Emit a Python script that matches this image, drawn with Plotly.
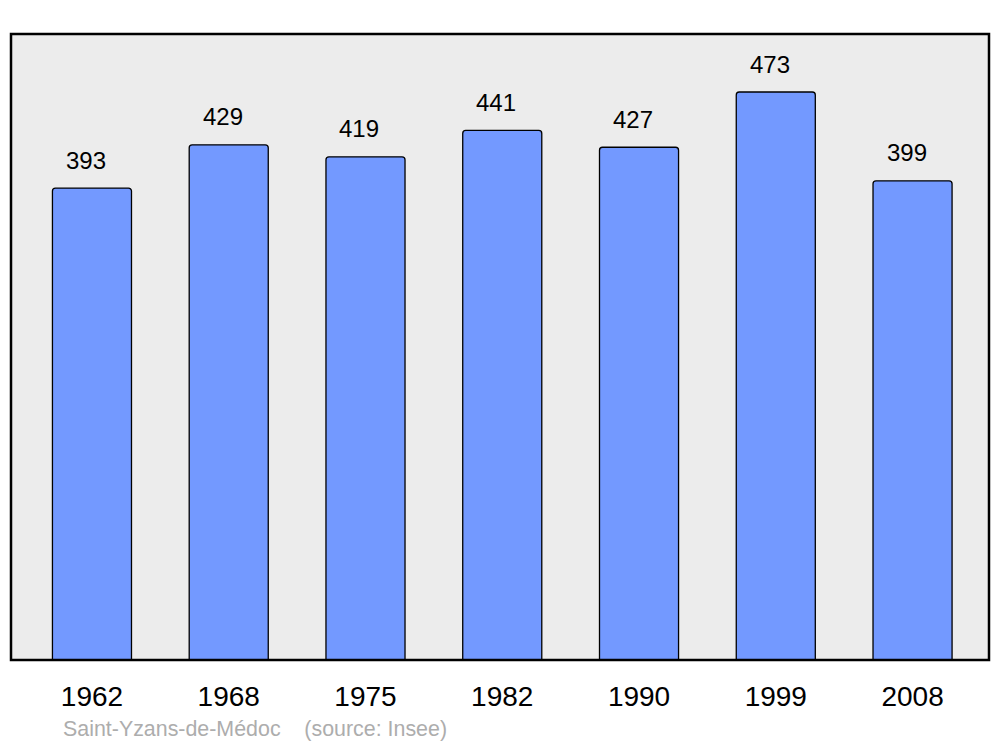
import plotly.graph_objects as go

years = ["1962", "1968", "1975", "1982", "1990", "1999", "2008"]
population = [393, 429, 419, 441, 427, 473, 399]
source_text = "Saint-Yzans-de-Médoc    (source: Insee)"

xpos = list(range(len(years)))
FONT = "Liberation Sans, Arial, sans-serif"

fig = go.Figure()
fig.add_trace(go.Bar(
    x=xpos, y=population, width=0.578,
    marker=dict(color="#7399ff", line=dict(color="#000000", width=1.3)),
    hoverinfo="skip",
))

for xi, v in zip(xpos, population):
    fig.add_annotation(x=xi, y=v, text=str(v), showarrow=False,
                       yanchor="bottom", yshift=12.5, xshift=-6,
                       font=dict(family=FONT, size=24, color="#000"))

fig.add_annotation(xref="paper", yref="paper", x=0.051, y=-0.110, xanchor="left", yanchor="middle",
                   text=source_text, showarrow=False,
                   font=dict(family=FONT, size=21.4, color="#adadad"))

fig.add_shape(type="rect", xref="paper", yref="paper", x0=0, x1=1, y0=0, y1=1,
              line=dict(color="#000", width=2.5), layer="above")

fig.update_layout(
    width=992, height=739,
    margin=dict(l=3, r=11, t=26, b=87),
    paper_bgcolor="white", plot_bgcolor="#ececec",
    barcornerradius=3,
    showlegend=False,
    xaxis=dict(range=[-0.592, 6.559], tickmode="array", tickvals=xpos, ticktext=years,
               showgrid=False, zeroline=False, ticks="outside", ticklen=11, tickcolor="rgba(0,0,0,0)",
               tickfont=dict(family=FONT, size=28, color="#000"),
               fixedrange=True),
    yaxis=dict(range=[0, 521.3], showgrid=False, zeroline=False, showticklabels=False, fixedrange=True),
)

fig.write_html("out.html")
